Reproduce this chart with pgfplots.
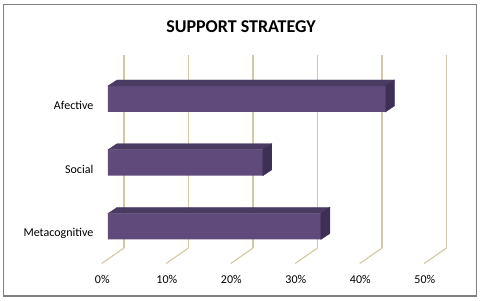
\documentclass[border=0pt]{standalone}
\usepackage{pgfplots}
\pgfplotsset{compat=1.18}
\usepackage{fontspec}
\setmainfont{Carlito}
\definecolor{frontcol}{HTML}{5F4A7B}
\definecolor{topcol}{HTML}{4B3B62}
\definecolor{sidecol}{HTML}{3E2F55}
\definecolor{gridtan}{RGB}{210,200,166}
\definecolor{bordergray}{HTML}{808080}
\pgfplotstableread{
val y
33 0
24 1
43 2
}\bardata
\begin{document}
\begin{tikzpicture}[x=1pt,y=1pt]
\useasboundingbox (0,0) rectangle (482,300);
\draw[bordergray, line width=1.3pt] (3.5,4) rectangle (476.5,295.5);
\node[anchor=base, font=\fontsize{18}{21}\selectfont\bfseries] at (241,267.7) {SUPPORT STRATEGY};
% back wall grid
\begin{axis}[at={(124pt,52pt)}, anchor=south west, scale only axis,
  width=322.5pt, height=193pt, xmin=0, xmax=50, ymin=0, ymax=1,
  axis line style={draw=none}, major tick style={draw=none},
  ytick=\empty, xtick={0,10,20,30,40,50},
  xticklabels={0\%,10\%,20\%,30\%,40\%,50\%},
  xticklabel style={anchor=base, yshift=-35.3pt, xshift=-21.7pt, font=\fontsize{12}{14}\selectfont},
  xmajorgrids, grid style={color=gridtan, line width=1.1pt}, clip=false]
\addplot[draw=none] coordinates {(0,0) (50,1)};
\pgfplotsinvokeforeach{0,10,20,30,40,50}{
  \draw[gridtan, line width=1.1pt] (axis cs:#1,0) -- ++(-22.3pt,-15.5pt);
}
\end{axis}
% bars
\begin{axis}[at={(108pt,35.25pt)}, anchor=south west, scale only axis,
  width=322.5pt, height=204pt, xmin=0, xmax=50, ymin=-0.6, ymax=2.6,
  axis line style={draw=none}, major tick style={draw=none},
  xtick=\empty, ytick={0,1,2},
  yticklabels={Metacognitive,Social,Afective},
  yticklabel style={anchor=base east, yshift=-10.3pt, xshift=-14.5pt, inner sep=0pt, font=\fontsize{12}{14}\selectfont},
  clip=false]
\addplot[xbar, bar width=26pt, fill=frontcol, draw=none] table[x=val, y=y] {\bardata};
\addplot[scatter, only marks, mark=*, mark size=0pt, mark options={draw=none, fill=none},
  visualization depends on={\thisrow{val} \as \len},
  scatter/@pre marker code/.code={%
    \pgfmathsetmacro\L{\len*6.45}%
    \fill[topcol] (-\L pt,13pt) -- ++(9pt,6pt) -- (9pt,19pt) -- (0pt,13pt) -- cycle;
    \fill[sidecol] (0pt,-13pt) -- (0pt,13pt) -- (9pt,19pt) -- (9pt,-7pt) -- cycle;
  },
  scatter/@post marker code/.code={}]
  table[x=val, y=y] {\bardata};
\end{axis}
\end{tikzpicture}
\end{document}
